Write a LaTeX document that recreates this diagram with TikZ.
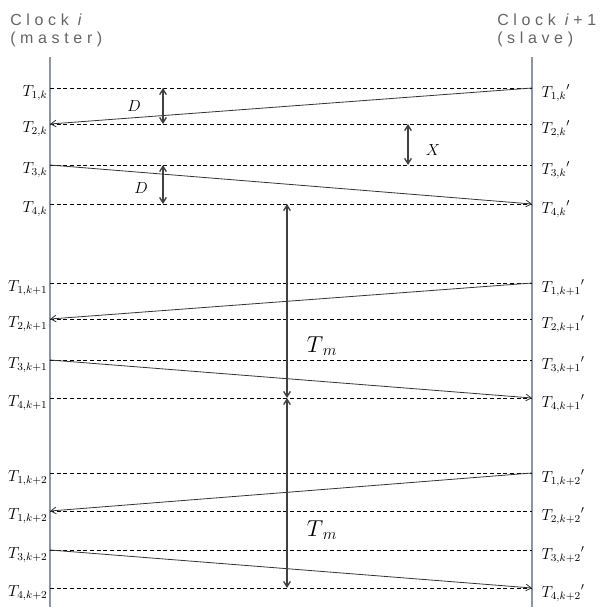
\documentclass[tikz,border=0pt]{standalone}
\usepackage{fontspec}
\newfontfamily\headfont[LetterSpace=29]{Liberation Sans}
\usetikzlibrary{arrows.meta,positioning}
\definecolor{axisgray}{RGB}{140,150,160}
\definecolor{headgray}{RGB}{100,100,100}

\begin{document}
\begin{tikzpicture}[x=0.75pt,y=-0.75pt,font=\large,
    head/.style={font=\headfont\fontsize{12}{14}\selectfont,text=headgray,inner sep=0pt},
    clockline/.style={draw=axisgray,line width=1pt},
    tick/.style={dash pattern=on 3pt off 2pt,line width=0.6pt},
    msg/.style={-{Straight Barb[length=4pt,width=5pt]},line width=0.6pt,draw=black!80},
    span/.style={{Straight Barb[length=4pt,width=5pt]}-{Straight Barb[length=4pt,width=5pt]},line width=1pt,draw=black!75},
    tlbl/.style={inner sep=1pt}]
    \useasboundingbox (0,0) rectangle (608,611);
    % clock names
    \node[head,anchor=base west] (clki) at (10,25) {Clock \textit{i}};
    \node[head,anchor=base west] (mast) at (10,43) {(master)};
    \node[head,anchor=base west] (clkj) at (497,25) {Clock \textit{i}+1};
    \node[head,anchor=base west] (slav) at (497,43) {(slave)};
    % time lines
    \coordinate (mtop) at (50,57);
    \coordinate (mbot) at (50,607);
    \coordinate (stop) at (532,57);
    \coordinate (sbot) at (532,607);
    \draw[clockline] (mtop) -- (mbot);
    \draw[clockline] (stop) -- (sbot);
    % time stamps
    \foreach \n/\y/\ml/\sl in {1/88/{T_{1,k}}/{{T_{1,k}}'},2/124/{T_{2,k}}/{{T_{2,k}}'},
        3/165/{T_{3,k}}/{{T_{3,k}}'},4/204/{T_{4,k}}/{{T_{4,k}}'},
        5/283/{T_{1,k+1}}/{{T_{1,k+1}}'},6/319/{T_{2,k+1}}/{{T_{2,k+1}}'},
        7/360/{T_{3,k+1}}/{{T_{3,k+1}}'},8/398/{T_{4,k+1}}/{{T_{4,k+1}}'},
        9/473/{T_{1,k+2}}/{{T_{1,k+2}}'},10/511/{T_{1,k+2}}/{{T_{2,k+2}}'},
        11/550/{T_{3,k+2}}/{{T_{3,k+2}}'},12/588/{T_{4,k+2}}/{{T_{4,k+2}}'}}{
      \coordinate (pm\n) at (50,\y);
      \coordinate (ps\n) at (532,\y);
      \draw[tick] (pm\n) -- (ps\n);
      \node[tlbl,anchor=east] (lm\n) at (49,\y+5) {$\ml$};
      \node[tlbl,anchor=west] (ls\n) at (540,\y+5) {$\sl$};
    }
    % messages
    \draw[msg] (ps1) -- (pm2);
    \draw[msg] (pm3) -- (ps4);
    \draw[msg] (ps5) -- (pm6);
    \draw[msg] (pm7) -- (ps8);
    \draw[msg] (ps9) -- (pm10);
    \draw[msg] (pm11) -- (ps12);
    % delays and periods
    \coordinate (dx) at (163,0);
    \coordinate (xx) at (408,0);
    \coordinate (tx) at (287,0);
    \draw[span] (pm1 -| dx) -- (pm2 -| dx);
    \draw[span] (pm3 -| dx) -- (pm4 -| dx);
    \draw[span] (pm2 -| xx) -- (pm3 -| xx);
    \draw[span] (pm4 -| tx) -- (pm8 -| tx);
    \draw[span] (pm8 -| tx) -- (pm12 -| tx);
    \node (dk) at (134,106) {$D$};
    \node (dl) at (141,188) {$D$};
    \node (xk) at (433,150) {$X$};
    \node[font=\LARGE] (tm1) at (322,346) {$T_{\,m}$};
    \node[font=\LARGE] (tm2) at (322,530) {$T_{\,m}$};
\end{tikzpicture}
\end{document}
